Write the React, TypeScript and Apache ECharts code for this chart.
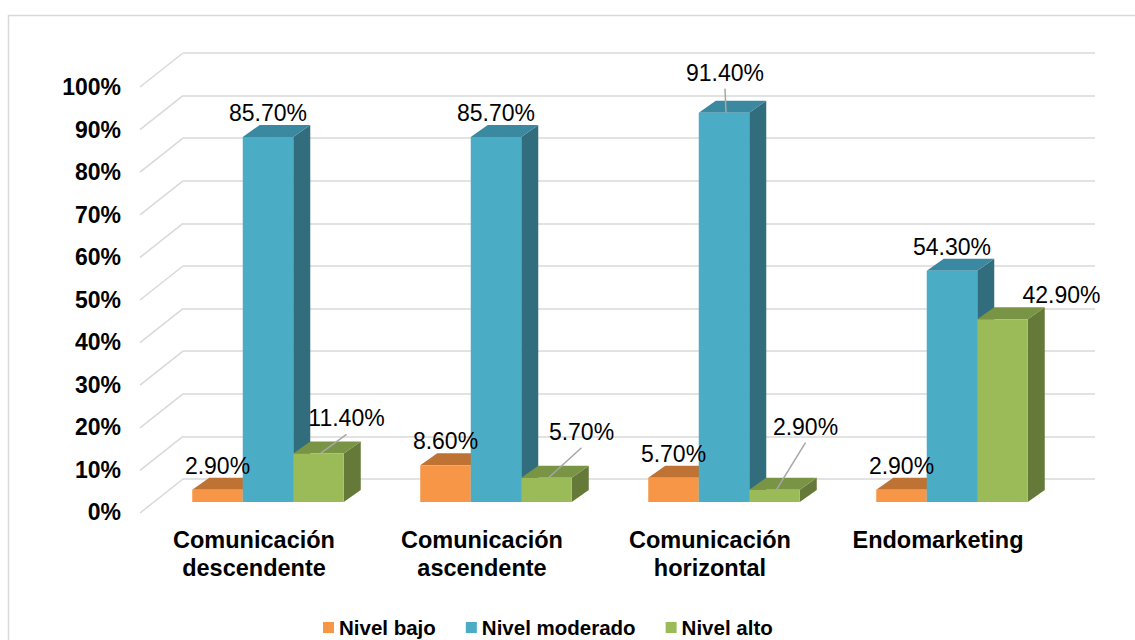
import React, { useEffect, useRef } from 'react';
import * as echarts from 'echarts';

const categories = [
  'Comunicación descendente',
  'Comunicación ascendente',
  'Comunicación horizontal',
  'Endomarketing',
];
const seriesNames = ['Nivel bajo', 'Nivel moderado', 'Nivel alto'];
const nivelBajo = [2.9, 8.6, 5.7, 2.9];
const nivelModerado = [85.7, 85.7, 91.4, 54.3];
const nivelAlto = [11.4, 5.7, 2.9, 42.9];
const yTicks = [0, 10, 20, 30, 40, 50, 60, 70, 80, 90, 100];

const seriesValues = [nivelBajo, nivelModerado, nivelAlto];

// presentation: label shifts [dx, dy, leaderLine]
const labelMoves = [
  [[0, 0, 0], [0, 0, 0], [0, 0, 0], [0, 0, 0]],
  [[0, 0, 0], [0, 0, 0], [1, -16, 1], [0, 0, 0]],
  [[28, -11, 1], [35, -22, 1], [31, -39, 1], [59, 0, 0]],
];

const faceColors = [
  { front: '#F79646', top: '#BE7335', side: '#A65F2A' },
  { front: '#4BACC6', top: '#3B89A0', side: '#316D7D' },
  { front: '#9BBB59', top: '#7A9446', side: '#657A38' },
];

const FONT = 'Arial, "Liberation Sans", sans-serif';
const DX = 17; // bar depth x
const DY = 12; // bar depth y
const FX = -29; // bar front plane shift from back wall
const FY = 23;
const WALL_DX = 43;
const WALL_DY = 34;
const BAR_FRAC = 0.2215;

function barGeom(api: any, i: number, v: number, s: number) {
  const c = api.coord([i, v]);
  const c0 = api.coord([i, 0]);
  const band = api.size([1, 0])[0];
  const w = band * BAR_FRAC;
  const xl = c[0] - 1.5 * w + s * w + FX;
  const xr = xl + w;
  const yt = c[1] + FY;
  const yb = c0[1] + FY;
  return { xl, xr, yt, yb, w };
}

export default function App() {
  const ref = useRef<HTMLDivElement>(null);
  useEffect(() => {
    if (!ref.current) return;
    const chart = echarts.init(ref.current, undefined, { renderer: 'svg' });

    const barSeries = seriesNames.map((name, s) => ({
      name,
      type: 'custom',
      xAxisIndex: 0,
      yAxisIndex: 0,
      z: 3,
      itemStyle: { color: faceColors[s].front },
      data: seriesValues[s].map((v, i) => [i, v]),
      renderItem: (params: any, api: any) => {
        const i = api.value(0);
        const v = api.value(1);
        const { xl, xr, yt, yb } = barGeom(api, i, v, s);
        const col = faceColors[s];
        return {
          type: 'group',
          children: [
            {
              type: 'polygon',
              shape: { points: [[xr, yt], [xr + DX, yt - DY], [xr + DX, yb - DY], [xr, yb]] },
              style: { fill: col.side },
            },
            {
              type: 'polygon',
              shape: { points: [[xl, yt], [xr, yt], [xr + DX, yt - DY], [xl + DX, yt - DY]] },
              style: { fill: col.top },
            },
            {
              type: 'rect',
              shape: { x: xl, y: yt, width: xr - xl, height: yb - yt },
              style: { fill: col.front },
            },
          ],
        };
      },
    }));

    const labelData: number[][] = [];
    seriesValues.forEach((vals, s) => vals.forEach((v, i) => labelData.push([i, v, s])));

    const labelSeries = {
      name: 'labels',
      type: 'custom',
      xAxisIndex: 0,
      yAxisIndex: 0,
      z: 10,
      silent: true,
      data: labelData,
      renderItem: (params: any, api: any) => {
        const i = api.value(0);
        const v = api.value(1);
        const s = api.value(2);
        const { xl, w, yt } = barGeom(api, i, v, s);
        const cx = xl + w / 2;
        const mv = labelMoves[s][i];
        const lx = cx + mv[0];
        const ly = yt - 24 + mv[1];
        const children: any[] = [];
        if (mv[2]) {
          children.push({
            type: 'line',
            shape: { x1: cx + 2, y1: yt, x2: lx, y2: ly + 16 },
            style: { stroke: '#A6A6A6', lineWidth: 1.5 },
          });
        }
        children.push({
          type: 'text',
          x: lx,
          y: ly,
          style: {
            text: v.toFixed(2) + '%',
            fill: '#000',
            fontSize: 23,
            fontFamily: FONT,
            align: 'center',
            verticalAlign: 'middle',
          },
        });
        return { type: 'group', children };
      },
    };

    const slantSeries = {
      name: 'slant',
      type: 'custom',
      xAxisIndex: 0,
      yAxisIndex: 0,
      z: 1,
      silent: true,
      data: yTicks.map((t) => [0, t]),
      renderItem: (params: any, api: any) => {
        const y = api.coord([0, api.value(1)])[1];
        const x0 = params.coordSys.x;
        return {
          type: 'line',
          shape: { x1: x0, y1: y, x2: x0 - WALL_DX, y2: y + WALL_DY },
          style: { stroke: '#D9D9D9', lineWidth: 1.5 },
        };
      },
    };

    chart.setOption({
      animation: false,
      color: faceColors.map((c) => c.front),
      graphic: [
        {
          type: 'rect',
          shape: { x: 8.5, y: 15.5, width: 1200, height: 700 },
          style: { fill: 'none', stroke: '#D9D9D9', lineWidth: 1.5 },
          silent: true,
        },
      ],
      legend: {
        data: seriesNames,
        left: 323,
        top: 617,
        padding: 0,
        icon: 'rect',
        itemWidth: 11,
        itemHeight: 11,
        itemGap: 30,
        textStyle: { fontSize: 20.5, fontWeight: 'bold', color: '#000', fontFamily: FONT },
      },
      grid: [
        { left: 183, right: 40, top: 53, bottom: 161 },
        { left: 140, right: 83, top: 87, bottom: 128 },
      ],
      xAxis: [
        {
          type: 'category',
          gridIndex: 0,
          data: categories,
          show: false,
        },
        {
          type: 'category',
          gridIndex: 1,
          data: categories,
          axisLine: { show: false },
          axisTick: { show: false },
          axisLabel: {
            margin: 14,
            fontSize: 23.5,
            fontWeight: 'bold',
            color: '#000',
            fontFamily: FONT,
            lineHeight: 28,
            verticalAlign: 'top',
            formatter: (v: string) => v.replace(' ', '\n'),
          },
        },
      ],
      yAxis: [
        {
          type: 'value',
          gridIndex: 0,
          min: 0,
          max: 100,
          interval: 10,
          axisLine: { show: false },
          axisTick: { show: false },
          axisLabel: { show: false },
          splitLine: { lineStyle: { color: '#D9D9D9', width: 1.5 } },
        },
        {
          type: 'value',
          gridIndex: 1,
          min: 0,
          max: 100,
          interval: 10,
          axisLine: { show: false },
          axisTick: { show: false },
          splitLine: { show: false },
          axisLabel: {
            margin: 19,
            fontSize: 23,
            fontWeight: 'bold',
            color: '#000',
            fontFamily: FONT,
            formatter: '{value}%',
          },
        },
      ],
      series: [slantSeries, ...barSeries, labelSeries],
    });
    return () => chart.dispose();
  }, []);

  return (
    <div
      ref={ref}
      style={{ position: 'absolute', left: 0, top: 0, width: 1135, height: 640, background: '#fff' }}
    />
  );
}
